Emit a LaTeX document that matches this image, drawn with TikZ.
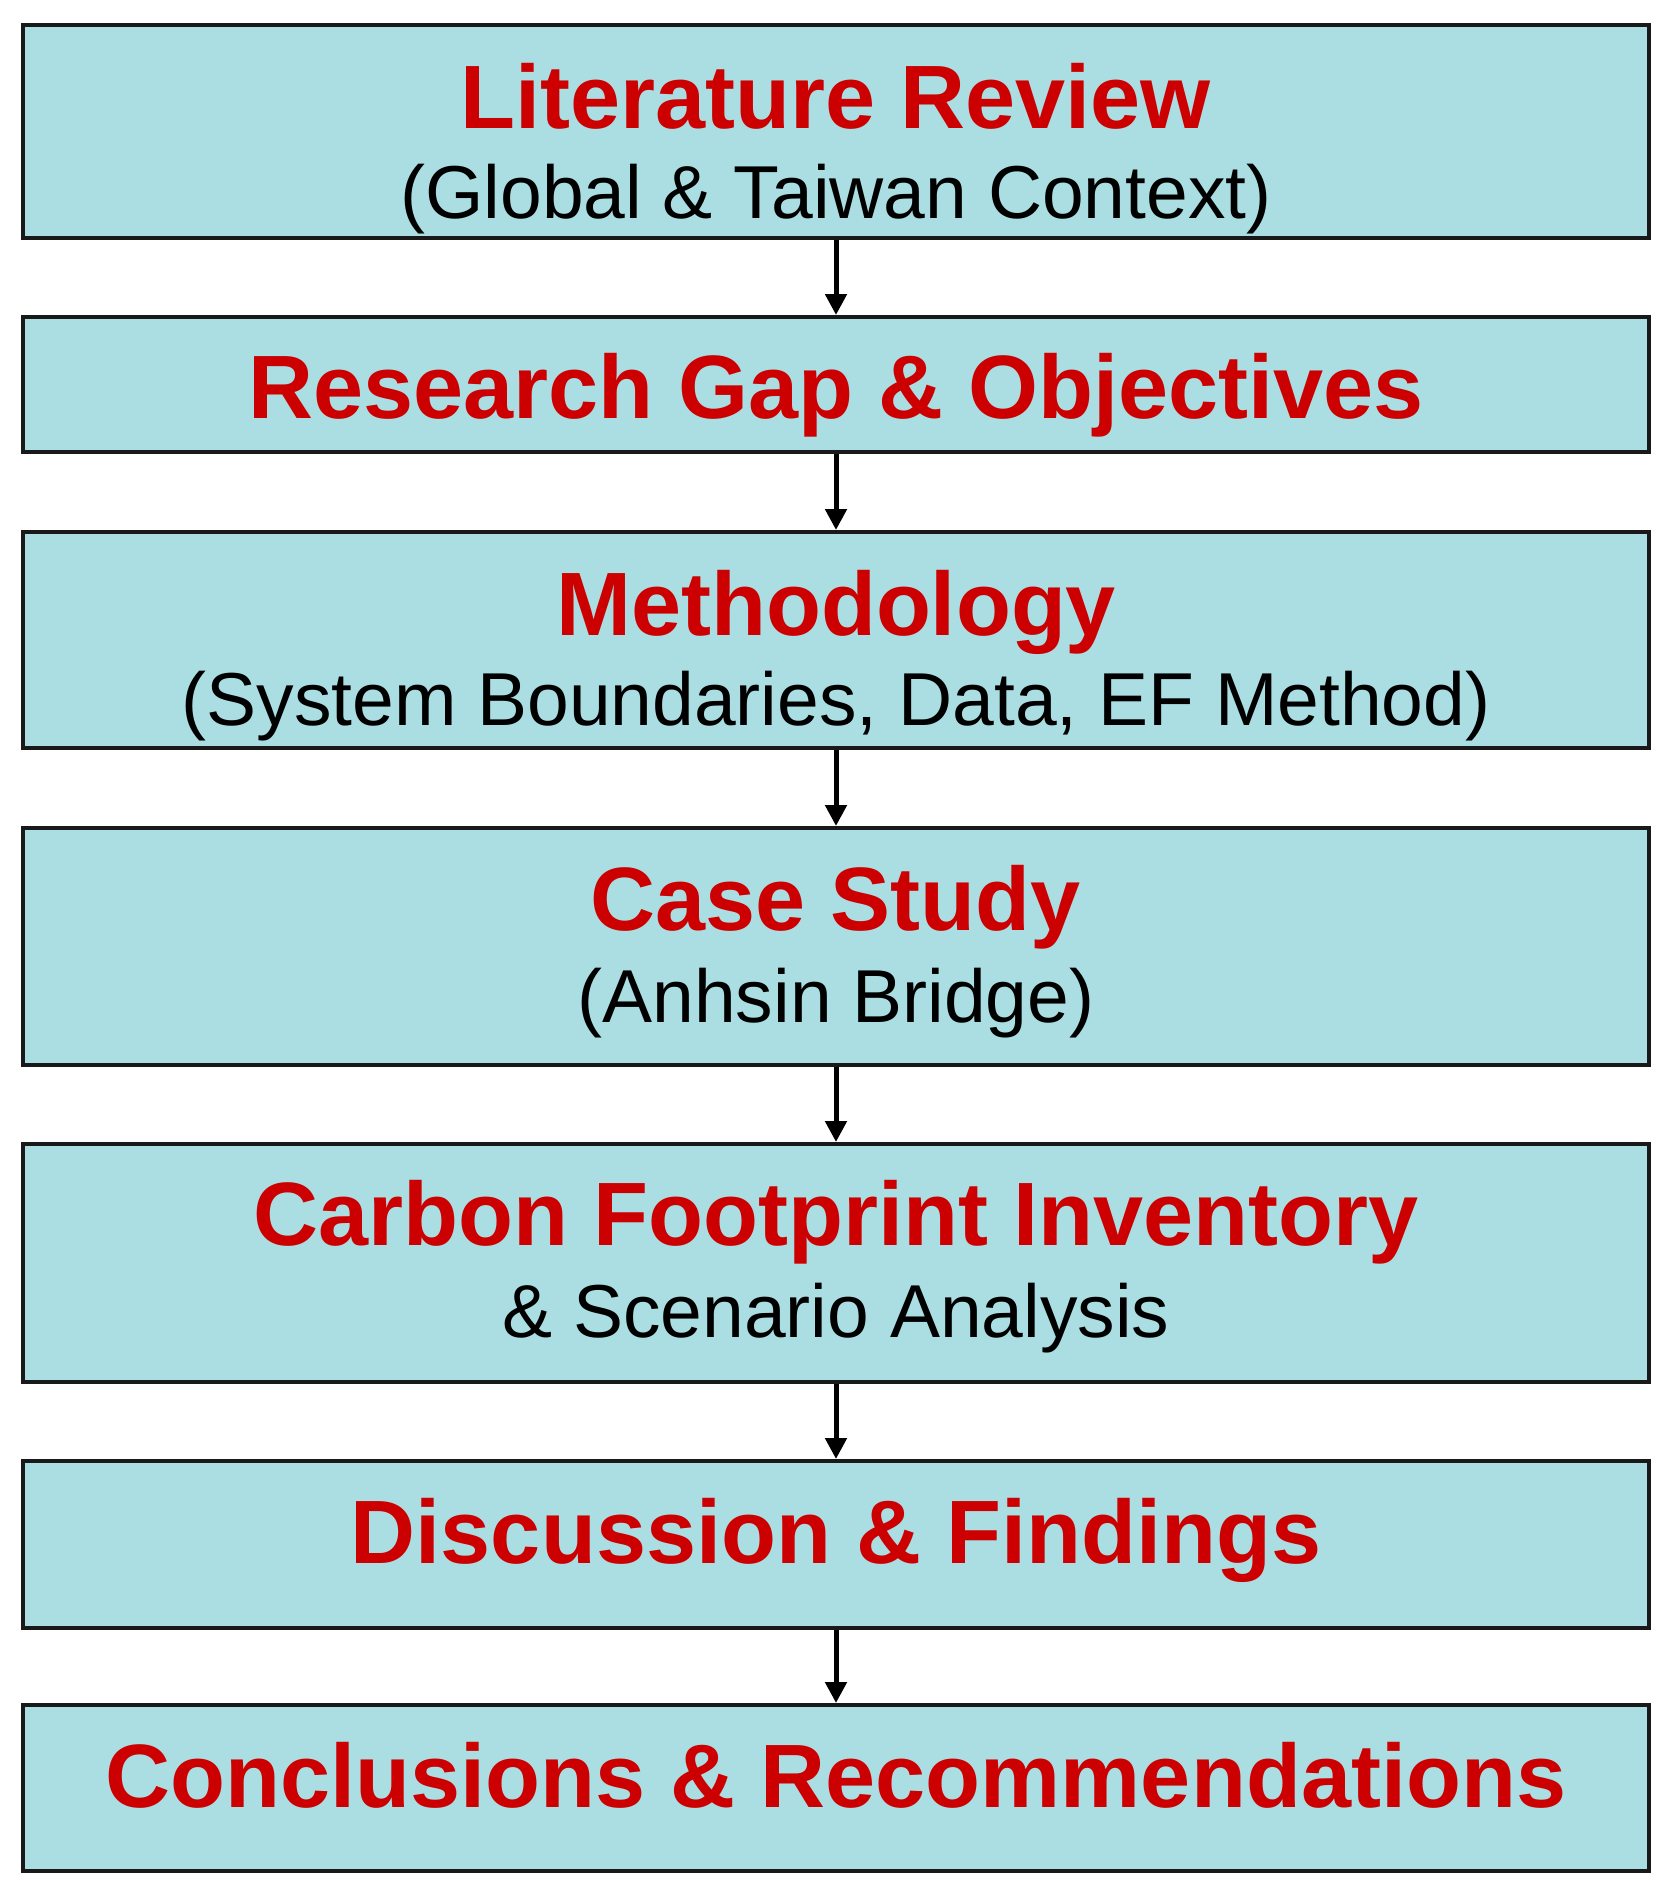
\documentclass[tikz,border=0pt]{standalone}
\usepackage{fontspec}
\setmainfont{Liberation Sans}
\usetikzlibrary{arrows.meta}
\definecolor{myteal}{RGB}{170,222,226}
\definecolor{myred}{RGB}{204,0,0}
\colorlet{myline}{black!90}

\begin{document}
\begin{tikzpicture}[x=1pt,y=-1pt]
\tikzset{BoxStyle/.style ={draw=myline, line width=4pt, fill=myteal, minimum width=1626pt, inner sep=0pt}}
\tikzset{TitleStyle/.style ={anchor=base, inner sep=0pt, text=myred, font=\fontsize{90}{90}\selectfont\bfseries}}
\tikzset{NoteStyle/.style ={anchor=base, inner sep=0pt, text=black, font=\fontsize{75}{75}\selectfont}}
\tikzset{EdgeStyle/.style ={line width=5pt, -{Triangle[width=21pt,length=21pt]}}}
\useasboundingbox (0,0) rectangle (1663,1899);
% boxes
\node[BoxStyle, minimum height=213pt] (lit)  at (836,131.5) {};
\node[BoxStyle, minimum height=135pt] (gap)  at (836,384.5) {};
\node[BoxStyle, minimum height=216pt] (meth) at (836,640) {};
\node[BoxStyle, minimum height=237pt] (case) at (836,946.5) {};
\node[BoxStyle, minimum height=238pt] (inv)  at (836,1263) {};
\node[BoxStyle, minimum height=167pt] (disc) at (836,1544.5) {};
\node[BoxStyle, minimum height=166pt] (conc) at (836,1788) {};
% texts
\node[TitleStyle] (lit-t)  at (836,128)  {Literature Review};
\node[NoteStyle]  (lit-s)  at (836,218)  {(Global \& Taiwan Context)};
\node[TitleStyle] (gap-t)  at (836,418)  {Research Gap \& Objectives};
\node[TitleStyle] (meth-t) at (836,635)  {Methodology};
\node[NoteStyle]  (meth-s) at (836,725)  {(System Boundaries, Data, EF Method)};
\node[TitleStyle] (case-t) at (836,930)  {Case Study};
\node[NoteStyle]  (case-s) at (836,1022) {(Anhsin Bridge)};
\node[TitleStyle] (inv-t)  at (836,1245) {Carbon Footprint Inventory};
\node[NoteStyle]  (inv-s)  at (836,1337) {\& Scenario Analysis};
\node[TitleStyle] (disc-t) at (836,1563) {Discussion \& Findings};
\node[TitleStyle] (conc-t) at (836,1807) {Conclusions \& Recommendations};
% arrows
\foreach \a/\b in {lit/gap,gap/meth,meth/case,case/inv,inv/disc,disc/conc}
  \draw[EdgeStyle] (\a.south) -- (\b.north);
\end{tikzpicture}
\end{document}
